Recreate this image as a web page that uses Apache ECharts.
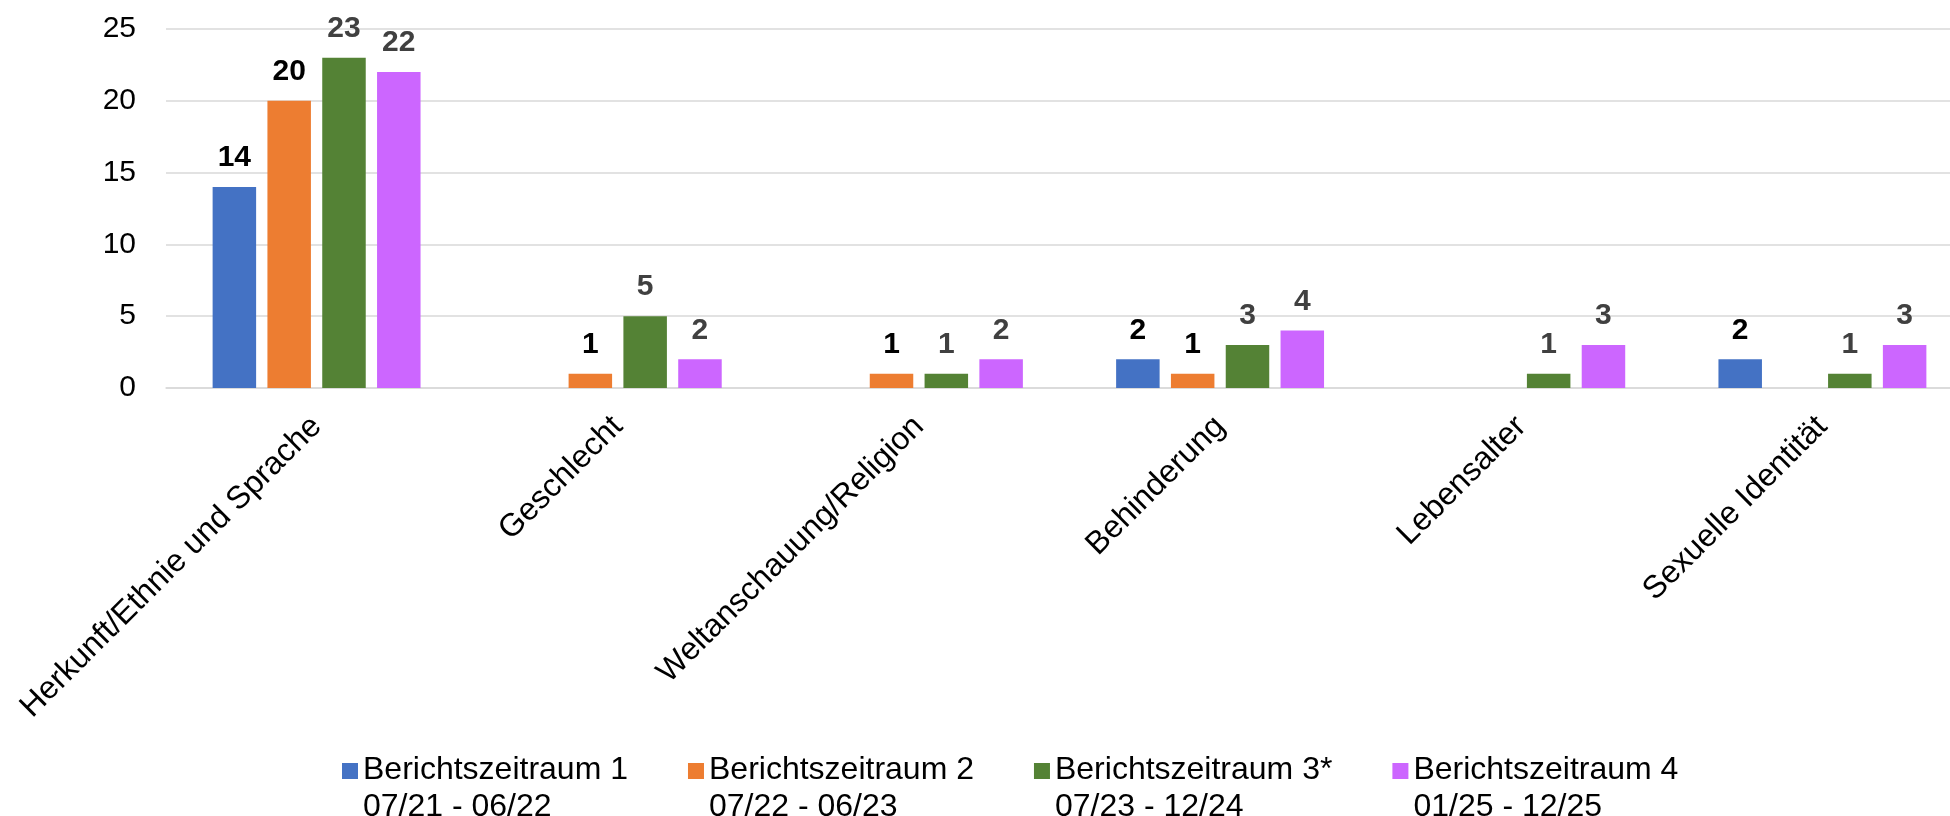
<!DOCTYPE html>
<html>
<head>
<meta charset="utf-8">
<title>Berichtszeiträume</title>
<script src="https://cdn.jsdelivr.net/npm/echarts@6/dist/echarts.min.js"></script>
<style>
    html, body { margin: 0; padding: 0; background: #ffffff; }
    #myChart { width: 1950px; height: 816px; }
</style>
</head>
<body>
<div id="myChart"></div>
<script>
    // Kategorien (x-Achse)
    var categories = ['Herkunft/Ethnie und Sprache', 'Geschlecht', 'Weltanschauung/Religion', 'Behinderung', 'Lebensalter', 'Sexuelle Identität'];
    // Reihen
    var seriesNames = ['Berichtszeitraum 1', 'Berichtszeitraum 2', 'Berichtszeitraum 3*', 'Berichtszeitraum 4'];
    var periods = ['07/21 - 06/22', '07/22 - 06/23', '07/23 - 12/24', '01/25 - 12/25'];
    var period1 = [14, null, null, 2, null, 2];
    var period2 = [20, 1, 1, 1, null, null];
    var period3 = [23, 5, 1, 3, 1, 1];
    var period4 = [22, 2, 2, 4, 3, 3];
    var yTicks = [0, 5, 10, 15, 20, 25];

    var colors = ['#4472C4', '#ED7D31', '#548235', '#CC66FF'];
    var labelColors = ['#000000', '#000000', '#404040', '#404040'];
    var font = "'Liberation Sans', Arial, sans-serif";

    var myChart = echarts.init(document.getElementById('myChart'));

    function bar(i, data) {
        return {
            type: 'bar',
            name: seriesNames[i],
            data: data,
            barWidth: 43.5,
            barGap: '26%',
            itemStyle: { color: colors[i] },
            label: {
                show: true,
                position: 'top',
                distance: 14,
                color: labelColors[i],
                fontFamily: font,
                fontSize: 30,
                fontWeight: 'bold'
            }
        };
    }

    myChart.setOption({
        animation: false,
        textStyle: { fontFamily: font },
        // plot runs a bit past the right edge, like the original
        grid: {
            left: 166,
            width: 1807,
            top: 29,
            bottom: 428,
            outerBoundsMode: 'none'
        },
        legend: {
            data: seriesNames,
            left: 342,
            top: 752,
            padding: 0,
            itemGap: 60,
            itemWidth: 16,
            itemHeight: 52,
            // square sits on the first text line
            icon: 'path://M0,0H16V16H0Z M0,51.99H0.01V52H0Z',
            textStyle: {
                fontFamily: font,
                fontSize: 32,
                lineHeight: 37,
                color: '#000000'
            },
            formatter: function (name) {
                var i = seriesNames.indexOf(name);
                return name + '\n' + periods[i];
            }
        },
        xAxis: {
            type: 'category',
            data: categories,
            axisTick: { show: false },
            axisLine: { show: true, lineStyle: { color: '#d9d9d9', width: 1.5 } },
            axisLabel: {
                interval: 0,
                rotate: 45,
                margin: 11,
                align: 'right',
                verticalAlign: 'top',
                padding: [0, 16, 0, 0],
                color: '#000000',
                fontFamily: font,
                fontSize: 32
            }
        },
        yAxis: {
            type: 'value',
            min: yTicks[0],
            max: yTicks[yTicks.length - 1],
            interval: 5,
            axisLine: { show: false },
            axisTick: { show: false },
            splitLine: { lineStyle: { color: '#d9d9d9', width: 1.5 } },
            axisLabel: {
                margin: 30,
                color: '#000000',
                fontFamily: font,
                fontSize: 30
            }
        },
        series: [
            bar(0, period1),
            bar(1, period2),
            bar(2, period3),
            bar(3, period4)
        ]
    });
</script>
</body>
</html>
